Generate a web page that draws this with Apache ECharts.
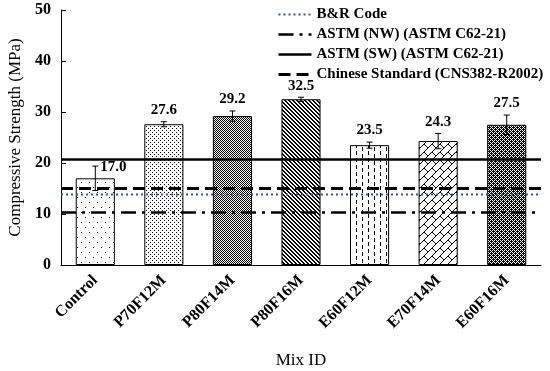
<!DOCTYPE html>
<html>
<head>
<meta charset="utf-8">
<script src="https://cdn.jsdelivr.net/npm/echarts@6/dist/echarts.min.js"></script>
<style>html,body{margin:0;padding:0;background:#fff;}#c{width:550px;height:371px;}</style>
</head>
<body>
<div id="c"></div>
<script>
// ---- data ----
var categories = ['Control', 'P70F12M', 'P80F14M', 'P80F16M', 'E60F12M', 'E70F14M', 'E60F16M'];
var strengths = [17.0, 27.6, 29.2, 32.5, 23.5, 24.3, 27.5];
var errors = [2.4, 0.5, 1.0, 0.4, 0.6, 1.5, 1.9];
var refNames = ['B&R Code', 'ASTM (NW) (ASTM C62-21)', 'ASTM (SW) (ASTM C62-21)', 'Chinese Standard (CNS382-R2002)'];
var refValues = [13.8, 10.3, 20.7, 15.0];
var yTicks = [0, 10, 20, 30, 40, 50];

var FONT = '"Liberation Serif", "Times New Roman", serif';

// ---- patterns ----
function tile(w, h, bg, draw) {
  var c = document.createElement('canvas');
  c.width = w; c.height = h;
  var g = c.getContext('2d');
  g.fillStyle = bg; g.fillRect(0, 0, w, h);
  g.fillStyle = '#000'; g.strokeStyle = '#000';
  draw(g, w, h);
  return { image: c, repeat: 'repeat' };
}
var patterns = [
  tile(8, 10, '#fff', function (g) { g.fillRect(1, 2, 1, 1); g.fillRect(5, 7, 1, 1); }),
  tile(4, 4, '#fff', function (g) { g.fillRect(0, 0, 1, 1); g.fillRect(2, 2, 1, 1); }),
  tile(4, 4, '#fff', function (g) {
    for (var y = 0; y < 4; y++) for (var x = 0; x < 4; x++) if ((x + y) % 2 === 0) g.fillRect(x, y, 1, 1);
  }),
  tile(4, 4, '#fff', function (g) {
    for (var i = 0; i < 4; i++) { g.fillRect(i, i, 1, 1); g.fillRect((i + 1) % 4, i, 1, 1); }
  }),
  tile(12, 14, '#fff', function (g) {
    g.fillRect(2, 0, 1, 4); g.fillRect(2, 7, 1, 4);
    g.fillRect(8, 4, 1, 4); g.fillRect(8, 11, 1, 3); g.fillRect(8, 0, 1, 1);
  }),
  tile(16, 16, '#fff', function (g) {
    var a = 8, b = 16;
    g.lineWidth = 1;
    g.beginPath();
    for (var c = -32; c <= 64; c += a) { g.moveTo(c + 32, -32); g.lineTo(-32, c + 32); }
    for (var n = -6; n <= 10; n++) {
      for (var m = -4; m <= 4; m++) {
        var v = m * b + ((n % 2 + 2) % 2 ? b / 2 : 0);
        var u1 = n * a, u2 = (n + 1) * a;
        g.moveTo((u1 + v) / 2, (u1 - v) / 2);
        g.lineTo((u2 + v) / 2, (u2 - v) / 2);
      }
    }
    g.stroke();
  }),
  tile(4, 4, '#000', function (g) {
    g.fillStyle = '#fff';
    g.fillRect(0, 0, 1, 1); g.fillRect(2, 2, 1, 1); g.fillRect(0, 2, 1, 1); g.fillRect(2, 0, 1, 1);
    g.fillRect(1, 1, 1, 1); g.fillRect(3, 3, 1, 1);
  })
];

var barData = strengths.map(function (v, i) {
  return { value: v, itemStyle: { color: patterns[i] } };
});
var errData = strengths.map(function (v, i) {
  return [i, v - errors[i], v + errors[i], v];
});

var refStyles = [
  { color: '#2F5D8C', width: 2, type: [2, 3] },
  { color: '#000', width: 2.5, type: [15, 6, 3, 6] },
  { color: '#000', width: 2.5, type: 'solid' },
  { color: '#000', width: 3, type: [12, 6] }
];
var refSeries = refNames.map(function (name, k) {
  return {
    name: name, type: 'line', xAxisIndex: 1, yAxisIndex: 0,
    symbol: 'none', showSymbol: false, silent: true, z: 5,
    lineStyle: refStyles[k], itemStyle: { color: refStyles[k].color },
    data: [[0, refValues[k]], [1, refValues[k]]]
  };
});

var chart = echarts.init(document.getElementById('c'), null, { renderer: 'canvas' });
chart.setOption({
  animation: false,
  backgroundColor: '#fff',
  textStyle: { fontFamily: FONT },
  grid: { left: 61, right: 9, top: 10, bottom: 106, containLabel: false, outerBoundsMode: 'none' },
  legend: {
    orient: 'vertical', left: 272, top: 2,
    itemWidth: 33, itemHeight: 12, itemGap: 5,
    itemStyle: { opacity: 0 },
    data: refNames.map(function (n, k) {
      return { name: n, itemStyle: { opacity: 0 }, lineStyle: { type: refStyles[k].type, width: refStyles[k].width, color: refStyles[k].color } };
    }),
    textStyle: { fontFamily: FONT, fontSize: 15, fontWeight: 'bold', color: '#000' }
  },
  xAxis: [{
    type: 'category', data: categories,
    axisLine: { lineStyle: { color: '#000', width: 1 } },
    axisTick: { show: false },
    axisLabel: { rotate: 45, margin: 13, interval: 0, fontFamily: FONT, fontSize: 16, fontWeight: 'bold', color: '#000' },
    name: 'Mix ID', nameLocation: 'middle', nameGap: 87,
    nameTextStyle: { fontFamily: FONT, fontSize: 17, color: '#000' }
  }, {
    type: 'value', min: 0, max: 1, show: false
  }],
  yAxis: {
    type: 'value', min: yTicks[0], max: yTicks[yTicks.length - 1], interval: yTicks[1] - yTicks[0],
    axisLine: { show: true, lineStyle: { color: '#000', width: 1 } },
    axisTick: { show: true, inside: true, length: 5, lineStyle: { color: '#000' } },
    splitLine: { show: false },
    axisLabel: { margin: 10, fontFamily: FONT, fontSize: 16, fontWeight: 'bold', color: '#000' },
    name: 'Compressive Strength (MPa)', nameLocation: 'middle', nameGap: 37,
    nameTextStyle: { fontFamily: FONT, fontSize: 17, color: '#000' }
  },
  series: [{
    type: 'bar', xAxisIndex: 0, barWidth: '57%', z: 2,
    itemStyle: { borderColor: '#000', borderWidth: 1 },
    data: barData
  }, {
    type: 'custom', xAxisIndex: 0, z: 3,
    encode: { x: 0, y: [1, 2] },
    data: errData,
    renderItem: function (params, api) {
      var i = api.value(0);
      var lo = api.coord([i, api.value(1)]);
      var hi = api.coord([i, api.value(2)]);
      var hw = 3;
      var ls = { stroke: '#000', lineWidth: 1 };
      var txt = api.value(3).toFixed(1);
      var font = 'bold 15px ' + FONT;
      var label = i === 0
        ? { type: 'text', x: hi[0] + 5, y: hi[1] + 1, style: { text: txt, font: font, fill: '#000', textAlign: 'left', textVerticalAlign: 'middle' } }
        : { type: 'text', x: hi[0], y: hi[1] - 4, style: { text: txt, font: font, fill: '#000', textAlign: 'center', textVerticalAlign: 'bottom' } };
      return {
        type: 'group', children: [
          { type: 'line', shape: { x1: hi[0], y1: hi[1], x2: lo[0], y2: lo[1] }, style: ls },
          { type: 'line', shape: { x1: hi[0] - hw, y1: hi[1], x2: hi[0] + hw, y2: hi[1] }, style: ls },
          { type: 'line', shape: { x1: lo[0] - hw, y1: lo[1], x2: lo[0] + hw, y2: lo[1] }, style: ls },
          label
        ]
      };
    }
  }].concat(refSeries)
});
</script>
</body>
</html>
